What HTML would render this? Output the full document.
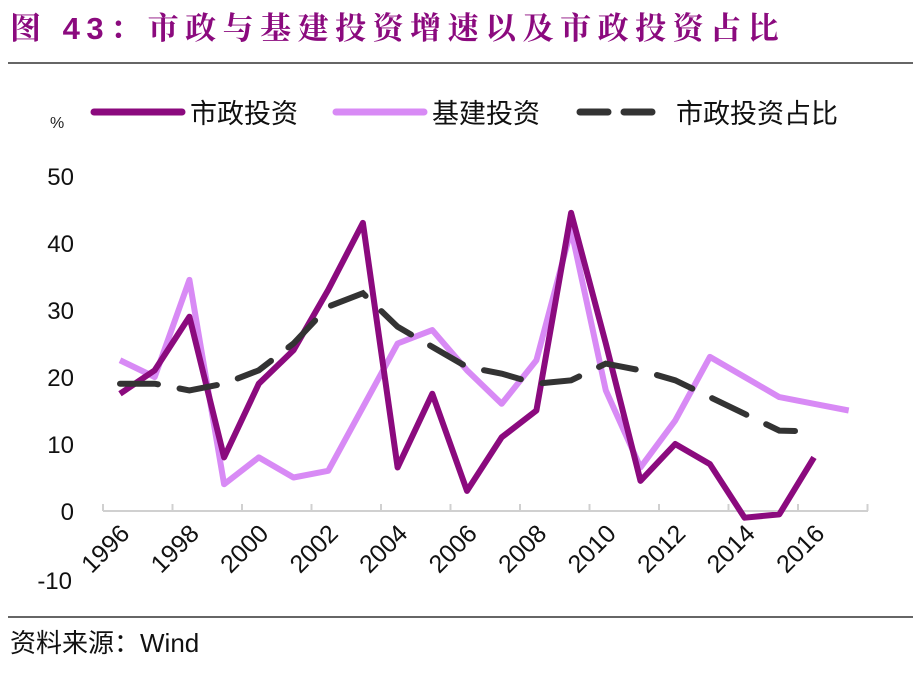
<!DOCTYPE html>
<html><head><meta charset="utf-8"><style>
body{margin:0;background:#fff;width:924px;height:674px;overflow:hidden;font-family:"Liberation Sans","Noto Sans CJK SC",sans-serif}
</style></head><body>
<svg id="s" width="924" height="674" xmlns="http://www.w3.org/2000/svg" font-family="Liberation Sans, Noto Sans CJK SC, sans-serif">
<text x="10" y="39" font-size="31" font-weight="bold" fill="#8B0A7E" letter-spacing="6.5" font-family="Liberation Sans, Noto Serif CJK SC, serif">图 43：市政与基建投资增速以及市政投资占比</text>
<line x1="8" y1="63" x2="913" y2="63" stroke="#333" stroke-width="1.5"/>
<line x1="8" y1="617" x2="913" y2="617" stroke="#333" stroke-width="1.5"/>
<text x="10" y="652" font-size="26" fill="#111">资料来源：Wind</text>
<text x="50" y="128" font-size="16" fill="#222">%</text>
<line x1="94" y1="112" x2="182" y2="112" stroke="#8B0A7E" stroke-width="7" stroke-linecap="round"/>
<text x="190" y="123" font-size="27" fill="#111">市政投资</text>
<line x1="336" y1="112" x2="424" y2="112" stroke="#D88AF5" stroke-width="7" stroke-linecap="round"/>
<text x="432" y="123" font-size="27" fill="#111">基建投资</text>
<line x1="580" y1="112" x2="668" y2="112" stroke="#333" stroke-width="7" stroke-linecap="round" stroke-dasharray="28 16"/>
<text x="676" y="123" font-size="27" fill="#111">市政投资占比</text>
<g font-size="24" fill="#111" text-anchor="end">
<text x="74" y="185">50</text><text x="74" y="252">40</text><text x="74" y="319">30</text>
<text x="74" y="386">20</text><text x="74" y="453">10</text><text x="74" y="520">0</text>
</g>
<g id="ax"></g>
</svg>
<script>
var s=document.getElementById('ax');
function X(y){return 120+34.7*(y-1996)}function Y(v){return 511-6.7*v}
var h='<line x1="103" y1="511" x2="868" y2="511" stroke="#d0d0d0" stroke-width="2"/>';
for(var i=0;i<12;i++){var x=103+69.5*i;h+='<line x1="'+x+'" y1="504" x2="'+x+'" y2="511" stroke="#d0d0d0" stroke-width="2"/>';}
for(var i=0;i<11;i++){var x=131+69.5*i;h+='<text transform="translate('+x+',535) rotate(-45)" font-size="25" fill="#111" text-anchor="end">'+(1996+2*i)+'</text>';}
h+='<text x="72" y="589" font-size="24" fill="#111" text-anchor="end">-10</text>';
function pl(d,st){var p=d.map(function(v,i){return X(1996+i)+','+Y(v)}).join(' ');return '<polyline points="'+p+'" fill="none" '+st+'/>';}
var b=[22.5,20,34.5,4,8,5,6,15.5,25,27,21,16,22.5,42,18,6.5,13.5,23,20,17,16,15];
var m=[17.5,21,29,8,19,24,33,43,6.5,17.5,3,11,15,44.5,25,4.5,10,7,-1,-0.5,8];
var r=[19,19,18,19,21,25,30.5,32.5,27.5,24.5,21.5,20.5,19,19.5,22,21,19.5,17,14.5,12];
h+=pl(b,'stroke="#D88AF5" stroke-width="6" stroke-linejoin="round"');
h+=pl(m,'stroke="#8B0A7E" stroke-width="6" stroke-linejoin="round"');
var rp=r.map(function(v,i){return X(1996+i)+','+Y(v)});rp.push('795,431');
h+='<polyline points="'+rp.join(' ')+'" fill="none" stroke="#333" stroke-width="6" stroke-dasharray="38 22" stroke-linecap="round"/>';
s.innerHTML=h;
</script>
</body></html>
